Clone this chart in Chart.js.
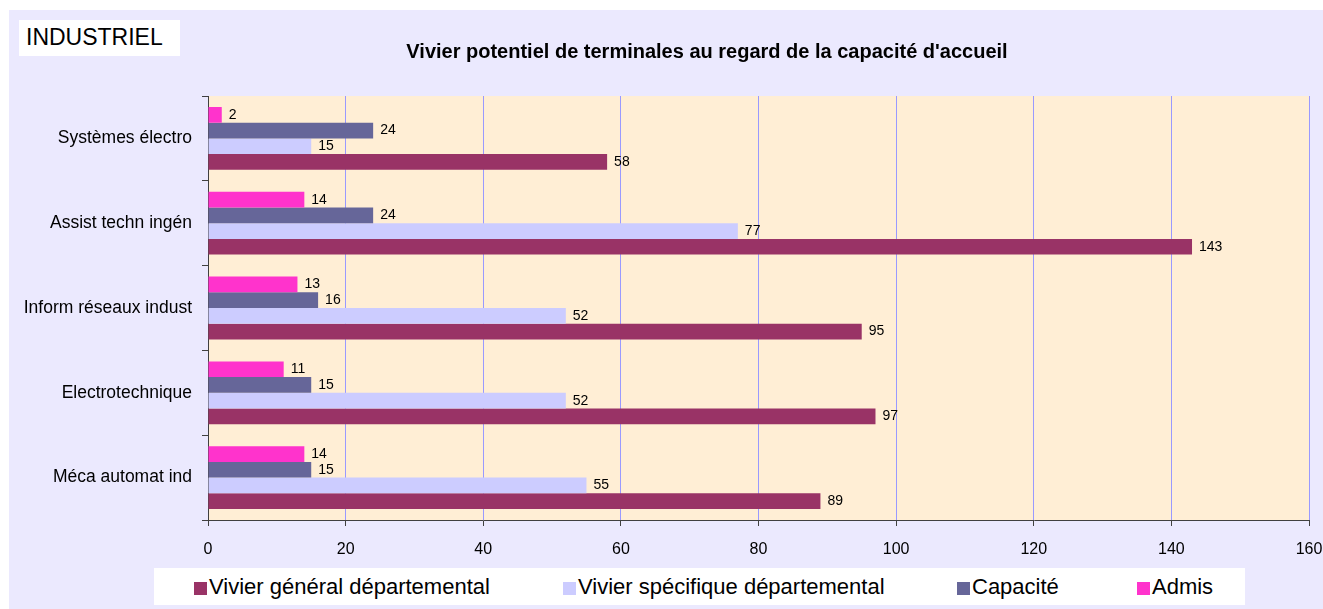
<!DOCTYPE html>
<html>
<head>
<meta charset="utf-8">
<script src="https://cdn.jsdelivr.net/npm/chart.js@4"></script>
<style>
  html, body { margin: 0; padding: 0; background: #fff; }
  body { width: 1323px; height: 609px; position: relative; overflow: hidden; font-family: "Liberation Sans", Arial, sans-serif; }
  #frame { position: absolute; left: 9px; top: 10px; width: 1314px; height: 599px; background: #EBE9FE; }
  #frame canvas { position: absolute; left: 0; top: 0; }
  #tag { position: absolute; left: 10px; top: 10px; width: 154px; height: 36px; background: #fff; font-size: 23px; line-height: 34px; padding-left: 7px; color: #000; }
  #legend { position: absolute; left: 145px; top: 558px; width: 1091px; height: 37px; background: #fff; }
  #legend span { position: absolute; top: 6px; font-size: 22px; line-height: 25px; color: #000; white-space: nowrap; }
  #legend i { display: inline-block; width: 13px; height: 13px; margin-right: 2px; vertical-align: -1px; }
</style>
</head>
<body>
<div id="frame">
  <canvas id="chart" width="1314" height="599"></canvas>
  <div id="tag">INDUSTRIEL</div>
  <div id="legend"></div>
</div>
<script>
(function () {
  "use strict";

  const title = "Vivier potentiel de terminales au regard de la capacité d'accueil";
  const categories = [
    "Systèmes électro",
    "Assist techn ingén",
    "Inform réseaux indust",
    "Electrotechnique",
    "Méca automat ind",
  ];
  const vivierGeneral = [58, 143, 95, 97, 89];
  const vivierSpecifique = [15, 77, 52, 52, 55];
  const capacite = [24, 24, 16, 15, 15];
  const admis = [2, 14, 13, 11, 14];
  const xTicks = [0, 20, 40, 60, 80, 100, 120, 140, 160];

  // top-to-bottom inside each group; legend shows them reversed
  const series = [
    { label: "Admis", data: admis, color: "#FF33CC" },
    { label: "Capacité", data: capacite, color: "#666699" },
    { label: "Vivier spécifique départemental", data: vivierSpecifique, color: "#CCCCFF" },
    { label: "Vivier général départemental", data: vivierGeneral, color: "#993366" },
  ];

  const FONT = "'Liberation Sans', Arial, sans-serif";

  const plotBg = {
    id: "plotBg",
    beforeDraw(chart) {
      const { ctx, chartArea: a } = chart;
      ctx.save();
      ctx.fillStyle = "#FFEED5";
      ctx.fillRect(a.left, a.top, a.right - a.left, a.bottom - a.top);
      ctx.restore();
    },
  };

  const titleText = {
    id: "titleText",
    afterDraw(chart) {
      const ctx = chart.ctx;
      ctx.save();
      ctx.font = "bold 20px " + FONT;
      ctx.fillStyle = "#000";
      ctx.textAlign = "center";
      ctx.textBaseline = "middle";
      ctx.fillText(title, 698, 42);
      ctx.restore();
    },
  };

  const valueLabels = {
    id: "valueLabels",
    afterDatasetsDraw(chart) {
      const ctx = chart.ctx;
      ctx.save();
      ctx.font = "14px " + FONT;
      ctx.fillStyle = "#000";
      ctx.textAlign = "left";
      ctx.textBaseline = "middle";
      chart.data.datasets.forEach((ds, i) => {
        chart.getDatasetMeta(i).data.forEach((bar, j) => {
          ctx.fillText(String(ds.data[j]), bar.x + 7, bar.y);
        });
      });
      ctx.restore();
    },
  };

  new Chart(document.getElementById("chart"), {
    type: "bar",
    data: {
      labels: categories,
      datasets: series.map((s) => ({
        label: s.label,
        data: s.data,
        backgroundColor: s.color,
        borderWidth: 0,
        categoryPercentage: 0.74,
        barPercentage: 1.0,
      })),
    },
    options: {
      indexAxis: "y",
      responsive: false,
      animation: false,
      layout: { padding: { left: 0, right: 14, top: 86, bottom: 49 } },
      plugins: {
        legend: { display: false },
        title: { display: false },
        tooltip: { enabled: false },
      },
      scales: {
        x: {
          min: 0,
          max: 160,
          afterBuildTicks: (scale) => { scale.ticks = xTicks.map((v) => ({ value: v })); },
          afterFit: (scale) => {
            scale.height = 40;
            scale.paddingLeft = 0;
            scale.paddingRight = 0;
          },
          grid: { color: "#9999FF", lineWidth: 1, tickColor: "#404040", tickLength: 6 },
          border: { color: "#404040", width: 1 },
          ticks: { color: "#000", padding: 14, font: { family: FONT, size: 16 } },
        },
        y: {
          afterFit: (scale) => { scale.width = 199; },
          grid: { drawOnChartArea: false, offset: true, tickColor: "#404040", tickLength: 6 },
          border: { color: "#404040", width: 1 },
          ticks: { color: "#000", padding: 10, font: { family: FONT, size: 17.5 } },
        },
      },
    },
    plugins: [plotBg, valueLabels, titleText],
  });

  // legend, in the reverse of the stacking order
  const legendX = [40, 409, 803, 983];
  const legend = document.getElementById("legend");
  series.slice().reverse().forEach((s, k) => {
    const item = document.createElement("span");
    item.style.left = legendX[k] + "px";
    const box = document.createElement("i");
    box.style.background = s.color;
    item.appendChild(box);
    item.appendChild(document.createTextNode(s.label));
    legend.appendChild(item);
  });
})();
</script>
</body>
</html>
